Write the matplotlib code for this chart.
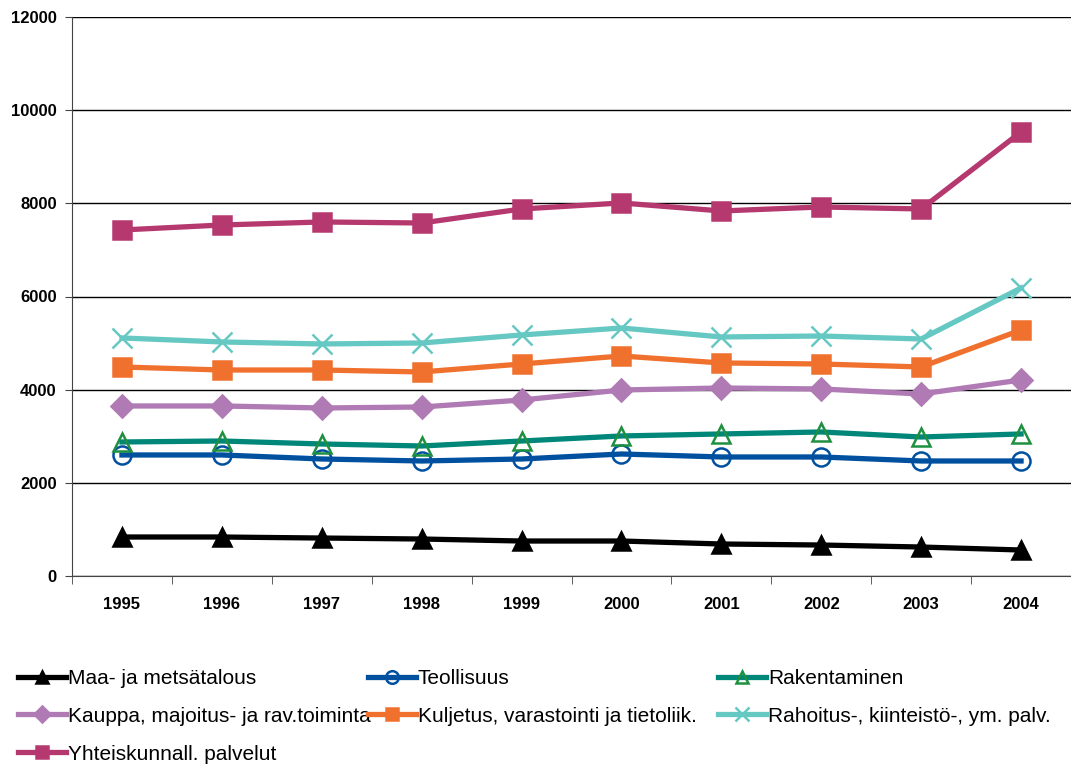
import matplotlib
matplotlib.use("Agg")
from matplotlib import pyplot as plt

plt.rcParams["font.family"] = ["Liberation Sans", "DejaVu Sans"]

years = ["1995", "1996", "1997", "1998", "1999", "2000", "2001", "2002", "2003", "2004"]

maa = [837, 837, 815, 794, 751, 751, 687, 665, 622, 558]
teollisuus = [2598, 2598, 2512, 2469, 2512, 2619, 2555, 2555, 2469, 2469]
rakentaminen = [2877, 2898, 2834, 2791, 2898, 3006, 3049, 3092, 2984, 3049]
kauppa = [3650, 3650, 3607, 3628, 3778, 3993, 4036, 4015, 3907, 4208]
kuljetus = [4487, 4422, 4422, 4380, 4551, 4723, 4573, 4551, 4487, 5281]
rahoitus = [5110, 5024, 4981, 5002, 5174, 5324, 5131, 5152, 5088, 6183]
yhteis = [7428, 7535, 7600, 7578, 7879, 8008, 7836, 7922, 7879, 9532]

labels = ["Maa- ja metsätalous", "Teollisuus", "Rakentaminen",
          "Kauppa, majoitus- ja rav.toiminta", "Kuljetus, varastointi ja tietoliik.",
          "Rahoitus-, kiinteistö-, ym. palv.", "Yhteiskunnall. palvelut"]

fig = plt.figure(figsize=(10.71, 7.66), dpi=100)
ax = fig.add_axes([72 / 1071, 1 - 576 / 766, 999 / 1071, (576 - 17) / 766])

x = list(range(len(years)))
lw = 3.8

# line color, marker, marker face, marker edge, size
styles = [
    ("#000000", "^", "#000000", "#000000", 13),
    ("#0050A0", "o", "none", "#0050A0", 13),
    ("#00877A", "^", "none", "#1E9040", 13),
    ("#B07AB5", "D", "#B07AB5", "#B07AB5", 11),
    ("#F0702E", "s", "#F0702E", "#F0702E", 13),
    ("#66C8C3", "x", "#66C8C3", "#66C8C3", 15),
    ("#B5386E", "s", "#B5386E", "#B5386E", 13),
]
series = [maa, teollisuus, rakentaminen, kauppa, kuljetus, rahoitus, yhteis]

handles = []
for vals, lab, (c, m, fc, ec, ms) in zip(series, labels, styles):
    h, = ax.plot(x, vals, color=c, lw=lw, marker=m, markersize=ms,
                 markerfacecolor=fc, markeredgecolor=ec, markeredgewidth=1.8,
                 label=lab, zorder=3)
    handles.append(h)

ax.set_xlim(-0.5, 9.5)
ax.set_ylim(0, 12000)
ax.set_yticks(range(0, 12001, 2000))
ax.set_xticks(x)
ax.set_xticklabels(years)
ax.set_xticks([i - 0.5 for i in range(11)], minor=True)
ax.tick_params(axis="x", which="major", length=0, pad=15)
ax.tick_params(axis="x", which="minor", length=6, color="#444444")
ax.tick_params(axis="y", length=5, color="#444444", pad=6)
for t in ax.get_xticklabels() + ax.get_yticklabels():
    t.set_fontweight("bold")
    t.set_fontsize(12)

ax.grid(axis="y", color="#000000", lw=1.0, zorder=0)
ax.spines["top"].set_visible(False)
ax.spines["right"].set_visible(False)
ax.spines["left"].set_color("#444444")
ax.spines["bottom"].set_color("#444444")

# legend laid out in three fixed columns, row by row
col_x = [18, 368, 718]
for ci in range(3):
    idx = list(range(ci, len(handles), 3))
    leg = fig.legend([handles[i] for i in idx], [labels[i] for i in idx],
                     loc="upper left", bbox_to_anchor=(col_x[ci] / 1071, 1 - 669 / 766),
                     frameon=False, fontsize=15, handlelength=2.3,
                     handletextpad=0.1, labelspacing=0.9, borderpad=0,
                     borderaxespad=0, markerscale=0.7)

fig.savefig("out.png", dpi=100)
